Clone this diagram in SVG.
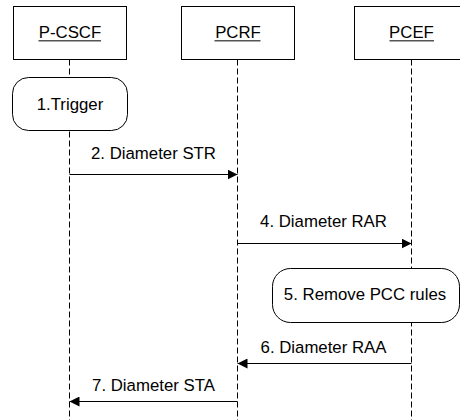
<svg xmlns="http://www.w3.org/2000/svg" width="460" height="420" viewBox="0 0 460 420">
  <defs>
    <style>
      text { font-family: "Liberation Sans", Arial, sans-serif; font-size: 16.8px; fill: #000; text-anchor: middle; }
      .box { fill: #fff; stroke: #000; stroke-width: 1; }
      .ul { stroke: #555; stroke-width: 1.4; }
      .life { stroke: #000; stroke-width: 1; stroke-dasharray: 6 3; fill: none; }
      .msg { stroke: #000; stroke-width: 1; fill: none; marker-end: url(#arrow); }
    </style>
    <marker id="arrow" viewBox="0 0 10 10" refX="10" refY="5" markerWidth="10" markerHeight="10" markerUnits="userSpaceOnUse" orient="auto">
      <path d="M0,0 L10,5 L0,10 Z" fill="#000"/>
    </marker>
  </defs>
  <rect width="460" height="420" fill="#fff"/>

  <g id="lifelines">
    <line class="life" x1="69.5" y1="59.5" x2="69.5" y2="420"/>
    <line class="life" x1="237.5" y1="59.5" x2="237.5" y2="420"/>
    <line class="life" x1="411.5" y1="59.5" x2="411.5" y2="420"/>
  </g>

  <g id="pcscf">
    <rect class="box" x="13.5" y="6.5" width="113" height="53"/>
    <text x="70" y="37.5">P-CSCF</text>
    <line class="ul" x1="38.5" y1="40.8" x2="101" y2="40.8"/>
  </g>
  <g id="pcrf">
    <rect class="box" x="181.5" y="6.5" width="113" height="53"/>
    <text x="238" y="37.5">PCRF</text>
    <line class="ul" x1="214.5" y1="40.8" x2="260.5" y2="40.8"/>
  </g>
  <g id="pcef">
    <rect class="box" x="354.5" y="6.5" width="113" height="53"/>
    <text x="411.5" y="37.5">PCEF</text>
    <line class="ul" x1="389.5" y1="40.8" x2="434" y2="40.8"/>
  </g>

  <g id="trigger">
    <rect class="box" x="12.5" y="77.5" width="115" height="53" rx="16" ry="16"/>
    <text x="70" y="109.5">1.Trigger</text>
  </g>

  <g id="remove-pcc">
    <rect class="box" x="272.5" y="268.5" width="187" height="54" rx="18" ry="18"/>
    <text x="365" y="299.5">5. Remove PCC rules</text>
  </g>

  <g id="connectors">
    <line class="msg" x1="69.5" y1="174.5" x2="237.5" y2="174.5"/>
    <text x="153.5" y="158.5">2. Diameter STR</text>
    <line class="msg" x1="237.5" y1="243.5" x2="411.5" y2="243.5"/>
    <text x="323.5" y="227">4. Diameter RAR</text>
    <line class="msg" x1="411.5" y1="363.5" x2="237.5" y2="363.5"/>
    <text x="323.5" y="353">6. Diameter RAA</text>
    <line class="msg" x1="237.5" y1="401.5" x2="69.5" y2="401.5"/>
    <text x="153.5" y="391">7. Diameter STA</text>
  </g>
</svg>
